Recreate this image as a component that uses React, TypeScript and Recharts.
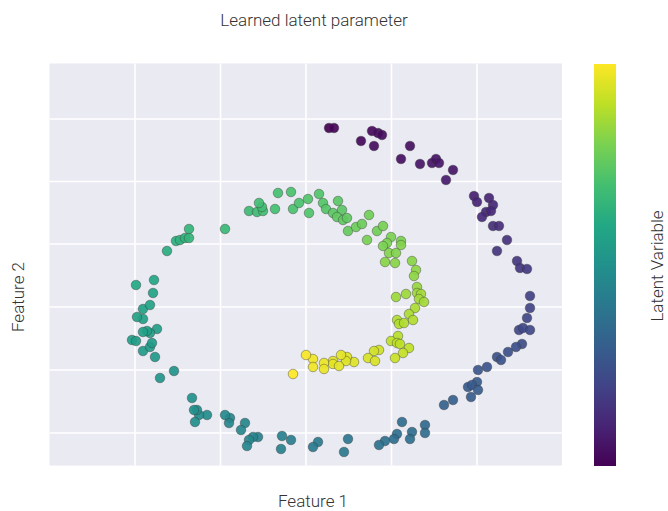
import { ScatterChart, Scatter, XAxis, YAxis, CartesianGrid, ReferenceLine } from "recharts";

// feature values (plot units), latent value 0..1
const featureX = [
  23, 28, 55, 66, 72, 76, 68, 95, 104, 114, 126, 130, 133, 147, 140,
  168, 171, 183, 187, 180, 185, 176, 187, 193, 201, 191, 211, 214, 221,
  224, 224, 221, 213, 217, 224, 216, 210, 202, 191, 195, 181, 172, 171, 162, 166, 172, 165, 147, 138,
  119, 119, 106, 104, 96, 91, 88, 79, 73, 42, 38, 12, 7, -15, -24, -25, -48, -53, -57, -59, -61, -65, -76, -77, -81, -99, -107, -109, -112, -111, -114, -132, -146,
  -151, -163, -156, -154, -174, -170, -149, -156, -159, -163, -163, -169, -163, -156, -153, -152, -170,
  -139, -130, -126, -121, -117, -117, -81, -57, -49, -43, -44, -47, -31, -28, -15, -13, -7, 2, 3, 13, 17, 20, 27, 32, 36, 31, 37, 41, 42, 50, 56, 63, 71, 77, 61, 85, 81, 77, 95, 95, 83, 90, 79, 89, 106, 110, 108, 111,
  90, 100, 111, 115, 113, 118, 109, 103, 91, 93, 98, 107, 92, 85, 91, 94, 103, 97, 89,
  73, 68, 62, 69, 48, 41, 40, 35, 27, 27, 33, 18, 18, 7, 7, 0, -13,
];

const featureY = [
  179, 179, 166, 176, 174, 172, 161, 148, 161, 143, 144, 148, 144, 137, 127,
  111, 105, 109, 102, 95, 96, 90, 81, 81, 67, 56, 46, 39, 38,
  11, -1, -11, -23, -21, -23, -37, -40, -45, -50, -53, -60, -63, -75, -80, -78, -83, -90, -93, -98,
  -118, -126, -125, -132, -115, -127, -132, -134, -138, -132, -145, -135, -140, -133, -129, -142, -130, -130, -133, -139, -116, -123, -111, -116, -108, -108, -108, -103, -103, -115, -91, -64, -71,
  -50, -44, -40, -36, -33, -34, -22, -26, -24, -25, -12, -10, -2, 2, 14, 27, 22,
  56, 66, 67, 69, 69, 78, 78, 96, 95, 96, 100, 104, 98, 114, 115, 98, 104, 108, 94, 113, 104, 98, 94, 106, 97, 90, 87, 89, 76, 80, 83, 92, 76, 81, 67, 70, 64, 61, 66, 62, 54, 54, 45, 44, 46, 37, 31, 20,
  10, 13, 14, 13, 8, 5, -1, -7, -13, -17, -16, -13, -29, -34, -36, -37, -41, -46, -51,
  -43, -44, -51, -54, -55, -50, -54, -48, -54, -57, -59, -56, -62, -52, -60, -48, -67,
];

const latent = [
  0.0, 0.01, 0.02, 0.02, 0.03, 0.03, 0.03, 0.04, 0.04, 0.05, 0.05, 0.05, 0.06, 0.06, 0.07,
  0.09, 0.1, 0.1, 0.11, 0.11, 0.11, 0.12, 0.13, 0.13, 0.14, 0.15, 0.16, 0.16, 0.17,
  0.19, 0.2, 0.21, 0.22, 0.22, 0.22, 0.23, 0.24, 0.24, 0.25, 0.25, 0.26, 0.27, 0.28, 0.28, 0.28, 0.29, 0.29, 0.3, 0.31,
  0.34, 0.35, 0.35, 0.36, 0.35, 0.36, 0.36, 0.37, 0.37, 0.39, 0.4, 0.41, 0.41, 0.42, 0.43, 0.43, 0.44, 0.44, 0.45, 0.45, 0.45, 0.46, 0.46, 0.46, 0.47, 0.48, 0.48, 0.49, 0.49, 0.49, 0.5, 0.51, 0.52,
  0.53, 0.54, 0.54, 0.54, 0.55, 0.55, 0.55, 0.55, 0.56, 0.56, 0.56, 0.57, 0.57, 0.58, 0.58, 0.59, 0.6,
  0.62, 0.63, 0.64, 0.64, 0.65, 0.65, 0.67, 0.68, 0.68, 0.69, 0.69, 0.69, 0.7, 0.7, 0.71, 0.71, 0.71, 0.72, 0.72, 0.72, 0.73, 0.73, 0.74, 0.74, 0.74, 0.75, 0.75, 0.75, 0.76, 0.77, 0.77, 0.78, 0.78, 0.79, 0.79, 0.8, 0.8, 0.8, 0.8, 0.81, 0.81, 0.81, 0.82, 0.82, 0.82, 0.83, 0.83, 0.84,
  0.85, 0.85, 0.85, 0.86, 0.86, 0.86, 0.87, 0.87, 0.88, 0.88, 0.88, 0.88, 0.89, 0.9, 0.9, 0.9, 0.9, 0.91, 0.92,
  0.93, 0.93, 0.94, 0.94, 0.95, 0.95, 0.95, 0.96, 0.96, 0.96, 0.96, 0.97, 0.97, 0.98, 0.98, 0.99, 1.0,
];

const xTicks = [-171, -85.5, 0, 85.5, 171];
const yTicks = [-126, -63, 0, 63, 125.5, 188];

const viridis = [
  "#440154", "#482475", "#414487", "#355f8d", "#2a788e", "#21918c",
  "#22a884", "#44bf70", "#7ad151", "#bddf26", "#fde725",
];

const hexToRgb = (h: string) => [1, 3, 5].map((i) => parseInt(h.slice(i, i + 2), 16));

const colorOf = (t: number) => {
  const pos = Math.min(Math.max(t, 0), 1) * (viridis.length - 1);
  const i = Math.min(Math.floor(pos), viridis.length - 2);
  const f = pos - i;
  const a = hexToRgb(viridis[i]);
  const b = hexToRgb(viridis[i + 1]);
  const c = a.map((v, k) => Math.round(v + (b[k] - v) * f));
  return `rgb(${c[0]},${c[1]},${c[2]})`;
};

const data = featureX.map((x, i) => ({ x, y: featureY[i], t: latent[i] }));

const Dot = (props: any) => {
  const { cx, cy, payload } = props;
  return (
    <circle
      cx={cx}
      cy={cy}
      r={4.8}
      fill={colorOf(payload.t)}
      fillOpacity={0.92}
      stroke="#3a3a3a"
      strokeOpacity={0.7}
      strokeWidth={0.6}
    />
  );
};

const font = "Roboto, 'Liberation Sans', sans-serif";
const labelStyle = { position: "absolute" as const, fontSize: 17, fontWeight: 300, color: "#333", whiteSpace: "nowrap" as const };

const App = () => {
  return (
    <div style={{ position: "absolute", left: 0, top: 0, width: 668, height: 511, background: "#fff", fontFamily: font }}>
      <ScatterChart width={668} height={511} margin={{ top: 63.5, right: 106, bottom: 45.5, left: 49.5 }}>
        <CartesianGrid fill="#eaeaf2" fillOpacity={1} horizontal={false} vertical={false} />
        <XAxis
          type="number"
          dataKey="x"
          domain={[-256.5, 256]}
          ticks={xTicks}
          allowDataOverflow
          tick={false}
          tickLine={false}
          axisLine={false}
          height={0}
        />
        <YAxis
          type="number"
          dataKey="y"
          domain={[-158.5, 243.5]}
          ticks={yTicks}
          allowDataOverflow
          tick={false}
          tickLine={false}
          axisLine={false}
          width={0}
        />
        {xTicks.map((v) => (
          <ReferenceLine key={`x${v}`} x={v} stroke="#ffffff" strokeWidth={1.6} />
        ))}
        {yTicks.map((v) => (
          <ReferenceLine key={`y${v}`} y={v} stroke="#ffffff" strokeWidth={1.6} />
        ))}
        <Scatter data={data} shape={Dot} isAnimationActive={false} />
      </ScatterChart>

      {/* colour bar */}
      <div
        style={{
          position: "absolute",
          left: 594,
          top: 63.5,
          width: 22,
          height: 402,
          background: `linear-gradient(to top, ${viridis.join(", ")})`,
        }}
      />

      <div style={{ ...labelStyle, left: 314, top: 20, transform: "translate(-50%, -50%)" }}>Learned latent parameter</div>
      <div style={{ ...labelStyle, left: 313, top: 501, transform: "translate(-50%, -50%)" }}>Feature 1</div>
      <div style={{ ...labelStyle, left: 18, top: 297, transform: "translate(-50%, -50%) rotate(-90deg)" }}>Feature 2</div>
      <div style={{ ...labelStyle, left: 657, top: 266, transform: "translate(-50%, -50%) rotate(-90deg)" }}>Latent Variable</div>
    </div>
  );
};

export default App;
